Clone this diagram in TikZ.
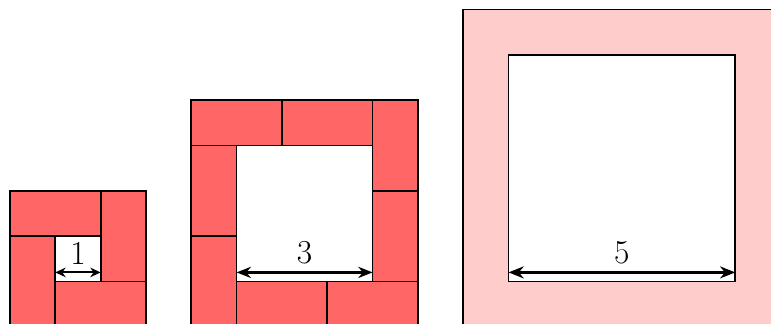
\documentclass[tikz,border=0pt]{standalone}
\usetikzlibrary{arrows.meta}
\begin{document}
\begin{tikzpicture}[
  tile/.style={draw=black, fill=red!60, line width=1.1pt, line join=miter},
  ring/.style={draw=black, fill=red!20, line width=1.1pt},
  hole/.style={draw=black, fill=white, line width=1.1pt},
  lbl/.style={font=\fontsize{21}{25}\selectfont, inner sep=4.5pt, above},
  dimA/.style={line width=1.2pt, {Stealth[length=6.5pt,width=6pt]}-{Stealth[length=6.5pt,width=6pt]}},
  dimB/.style={line width=1.6pt, {Stealth[length=9pt,width=7pt]}-{Stealth[length=9pt,width=7pt]}},
  dimC/.style={line width=2pt, {Stealth[length=9.5pt,width=7.5pt]}-{Stealth[length=9.5pt,width=7.5pt]}}
]
\clip (-0.22,0.064) rectangle (16.79,7.21);
% figure 1
\draw[tile] (0,2) rectangle (2,3);
\draw[tile] (2,1) rectangle (3,3);
\draw[tile] (1,0) rectangle (3,1);
\draw[tile] (0,0) rectangle (1,2);
\coordinate (a1) at (1,1.2);
\coordinate (b1) at (2,1.2);
\draw[dimA] (a1) -- (b1) node[lbl, midway] (l1) {1};
% figure 2
\begin{scope}[xshift=4cm]
\draw[tile] (0,4) rectangle (2,5);
\draw[tile] (2,4) rectangle (4,5);
\draw[tile] (4,3) rectangle (5,5);
\draw[tile] (4,1) rectangle (5,3);
\draw[tile] (1,0) rectangle (3,1);
\draw[tile] (3,0) rectangle (5,1);
\draw[tile] (0,2) rectangle (1,4);
\draw[tile] (0,0) rectangle (1,2);
\coordinate (a2) at (1,1.2);
\coordinate (b2) at (4,1.2);
\draw[dimB] (a2) -- (b2) node[lbl, midway] (l2) {3};
\end{scope}
% figure 3
\begin{scope}[xshift=10cm]
\draw[ring] (0,0) rectangle (7,7);
\draw[hole] (1,1) rectangle (6,6);
\coordinate (a3) at (1,1.2);
\coordinate (b3) at (6,1.2);
\draw[dimC] (a3) -- (b3) node[lbl, midway] (l3) {5};
\end{scope}
\end{tikzpicture}
\end{document}
